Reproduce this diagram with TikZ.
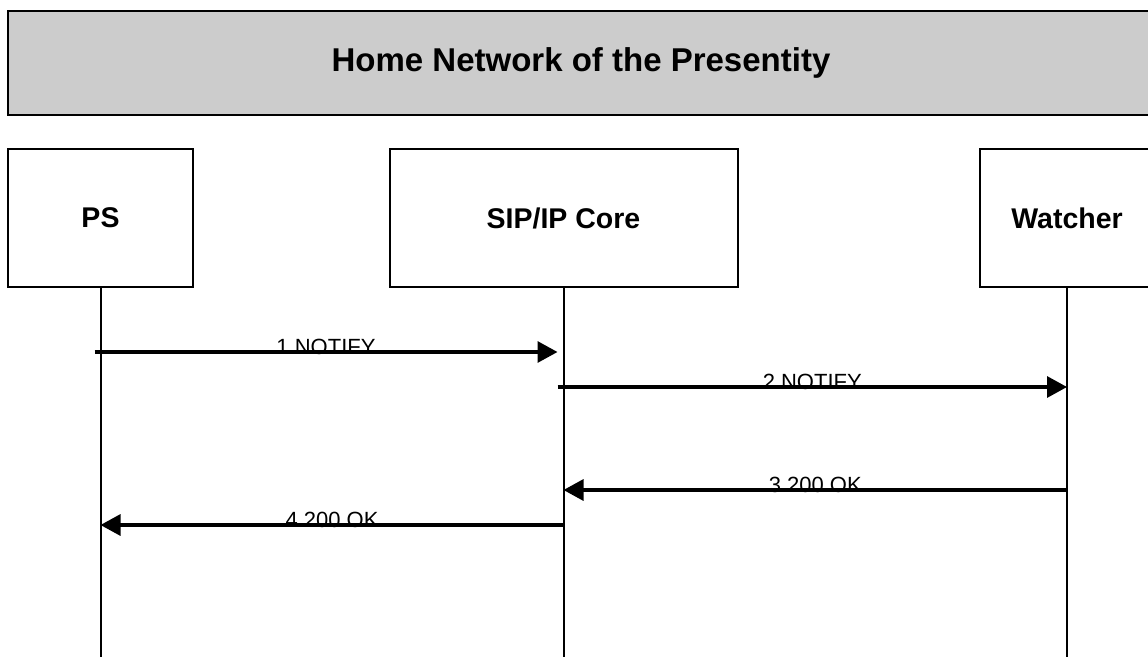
\documentclass[tikz,border=0pt]{standalone}
\usepackage{fontspec}
\setmainfont{Liberation Sans}
\usetikzlibrary{arrows.meta}
\tikzstyle{entity} = [rectangle,draw,line width=2pt,fill=white,inner sep=0pt,minimum height=138pt,font=\fontsize{28.5}{32}\selectfont\bfseries]

\begin{document}
\begin{tikzpicture}
		[
		x=1pt,y=-1pt,
		lifeline/.style={line width=2pt},
		msg/.style={line width=3.2pt,-{Triangle[length=20pt,width=21pt]}},
		msglabel/.style={midway,anchor=base,yshift=-2.5pt,inner sep=0pt,font=\fontsize{22}{24}\selectfont}
		]
		\useasboundingbox (0,0) rectangle (1148,656);
		\clip (0,0) rectangle (1148,656);
		\node[rectangle,draw,line width=2pt,fill=black!20,minimum width=1146pt,minimum height=104pt,inner sep=0pt,font=\fontsize{33}{36}\selectfont\bfseries](home) at (581,63) {\raisebox{-3pt}{Home Network of the Presentity}};
		\node[entity,minimum width=185pt](ps) at (100.5,218) {PS};
		\node[entity,minimum width=348pt](core) at (563.5,218) {SIP/IP Core};
		\node[entity,minimum width=174pt](watcher) at (1067,218) {Watcher};
		% lifelines
		\coordinate (ps_end) at (ps.south |- 0,660);
		\coordinate (core_end) at (core.south |- 0,660);
		\coordinate (watcher_end) at (watcher.south |- 0,660);
		\draw[lifeline] (ps.south) -- (ps_end);
		\draw[lifeline] (core.south) -- (core_end);
		\draw[lifeline] (watcher.south) -- (watcher_end);
		% messages
		\coordinate (m1a) at ([xshift=-6pt]ps.south |- 0,352);
		\coordinate (m1b) at ([xshift=-6pt]core.south |- 0,352);
		\coordinate (m2a) at ([xshift=-6pt]core.south |- 0,387);
		\coordinate (m2b) at (watcher.south |- 0,387);
		\coordinate (m3a) at (watcher.south |- 0,490);
		\coordinate (m3b) at (core.south |- 0,490);
		\coordinate (m4a) at (core.south |- 0,525);
		\coordinate (m4b) at (ps.south |- 0,525);
		\draw[msg] (m1a) -- (m1b) node[msglabel] {1.NOTIFY};
		\draw[msg] (m2a) -- (m2b) node[msglabel] {2.NOTIFY};
		\draw[msg] (m3a) -- (m3b) node[msglabel] {3.200 OK};
		\draw[msg] (m4a) -- (m4b) node[msglabel] {4.200 OK};
		\end{tikzpicture}
\end{document}
